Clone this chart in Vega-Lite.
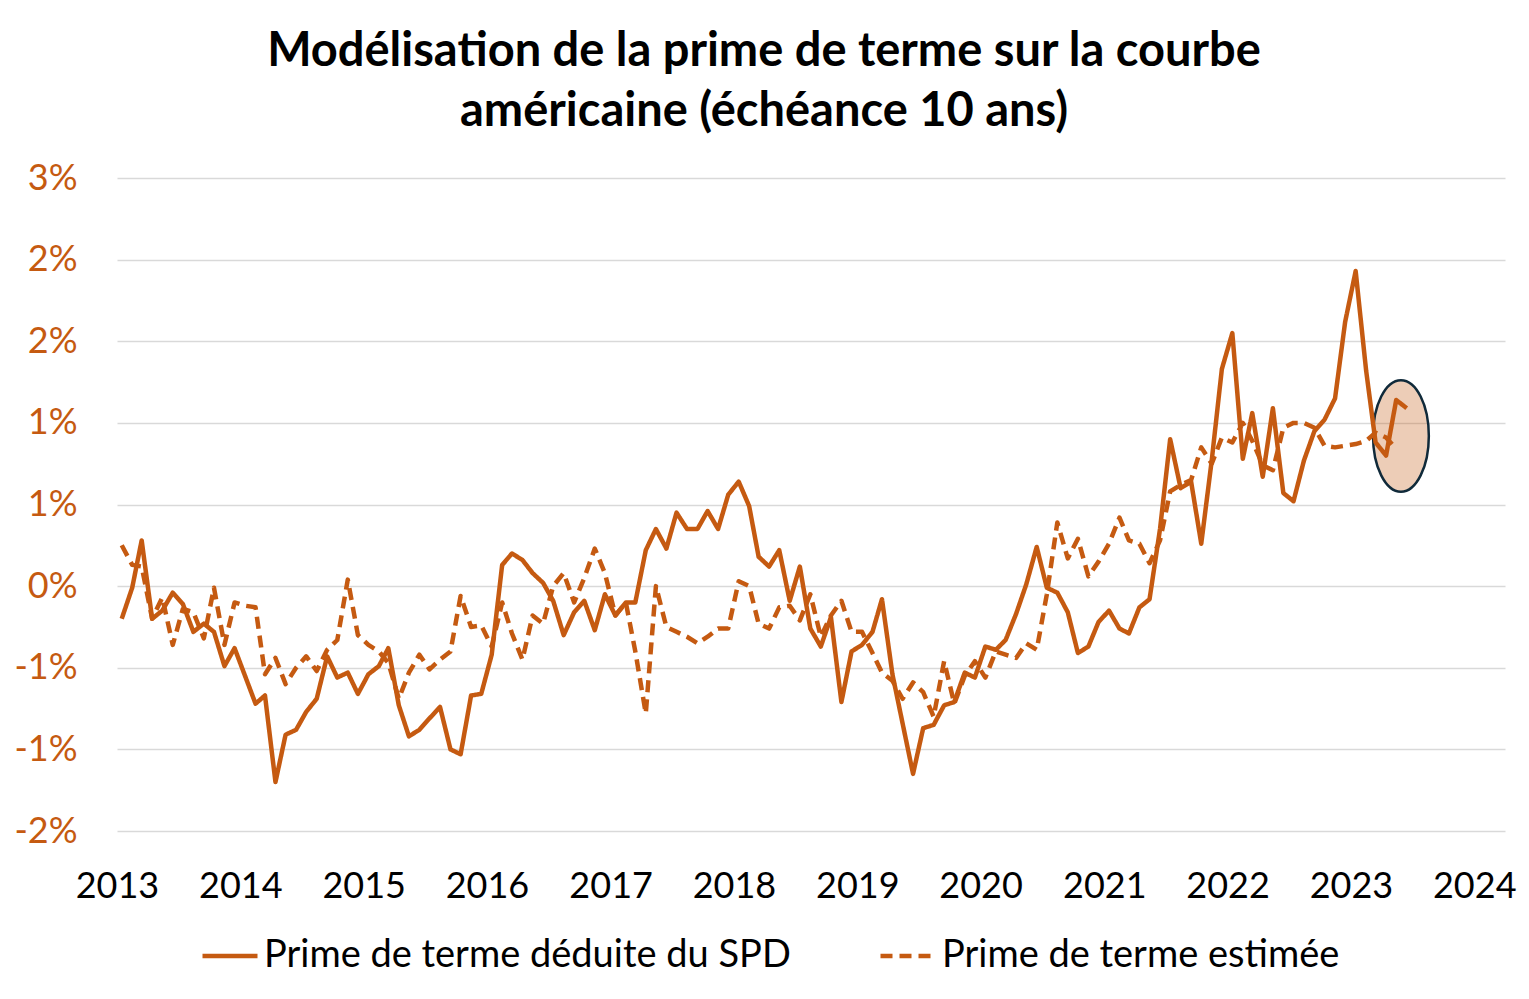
{
  "$schema": "https://vega.github.io/schema/vega-lite/v6.json",
  "autosize": {"type": "none"},
  "width": 1388,
  "height": 653,
  "padding": {"left": 117, "top": 178, "right": 24, "bottom": 168},
  "background": "white",
  "title": {
    "text": ["Modélisation de la prime de terme sur la courbe", "américaine (échéance 10 ans)"],
    "font": "Lato",
    "fontSize": 47,
    "fontWeight": "bold",
    "color": "black",
    "lineHeight": 60,
    "anchor": "middle",
    "baseline": "bottom",
    "dx": -47,
    "offset": -23
  },
  "config": {
    "view": {"stroke": null},
    "font": "Lato"
  },
  "datasets": {
    "primes": [
      {"date": "2013-01-15", "spd": -0.20, "est": 0.25},
      {"date": "2013-02-15", "spd": -0.01, "est": 0.13},
      {"date": "2013-03-15", "spd": 0.28, "est": 0.12},
      {"date": "2013-04-15", "spd": -0.20, "est": -0.20},
      {"date": "2013-05-15", "spd": -0.15, "est": -0.07},
      {"date": "2013-06-15", "spd": -0.04, "est": -0.36},
      {"date": "2013-07-15", "spd": -0.11, "est": -0.14},
      {"date": "2013-08-15", "spd": -0.28, "est": -0.16},
      {"date": "2013-09-15", "spd": -0.23, "est": -0.32},
      {"date": "2013-10-15", "spd": -0.28, "est": -0.01},
      {"date": "2013-11-15", "spd": -0.49, "est": -0.36},
      {"date": "2013-12-15", "spd": -0.38, "est": -0.10},
      {"date": "2014-01-15", "spd": -0.55, "est": -0.12},
      {"date": "2014-02-15", "spd": -0.72, "est": -0.13},
      {"date": "2014-03-15", "spd": -0.67, "est": -0.54},
      {"date": "2014-04-15", "spd": -1.20, "est": -0.44},
      {"date": "2014-05-15", "spd": -0.91, "est": -0.60},
      {"date": "2014-06-15", "spd": -0.88, "est": -0.50},
      {"date": "2014-07-15", "spd": -0.77, "est": -0.43},
      {"date": "2014-08-15", "spd": -0.69, "est": -0.52},
      {"date": "2014-09-15", "spd": -0.43, "est": -0.39},
      {"date": "2014-10-15", "spd": -0.56, "est": -0.33},
      {"date": "2014-11-15", "spd": -0.53, "est": 0.04},
      {"date": "2014-12-15", "spd": -0.66, "est": -0.30},
      {"date": "2015-01-15", "spd": -0.54, "est": -0.36},
      {"date": "2015-02-15", "spd": -0.49, "est": -0.40},
      {"date": "2015-03-15", "spd": -0.38, "est": -0.47},
      {"date": "2015-04-15", "spd": -0.73, "est": -0.69},
      {"date": "2015-05-15", "spd": -0.92, "est": -0.53},
      {"date": "2015-06-15", "spd": -0.88, "est": -0.42},
      {"date": "2015-07-15", "spd": -0.81, "est": -0.51},
      {"date": "2015-08-15", "spd": -0.74, "est": -0.45},
      {"date": "2015-09-15", "spd": -1.00, "est": -0.40},
      {"date": "2015-10-15", "spd": -1.03, "est": -0.06},
      {"date": "2015-11-15", "spd": -0.67, "est": -0.25},
      {"date": "2015-12-15", "spd": -0.66, "est": -0.24},
      {"date": "2016-01-15", "spd": -0.42, "est": -0.37},
      {"date": "2016-02-15", "spd": 0.13, "est": -0.10},
      {"date": "2016-03-15", "spd": 0.20, "est": -0.29},
      {"date": "2016-04-15", "spd": 0.16, "est": -0.45},
      {"date": "2016-05-15", "spd": 0.08, "est": -0.18},
      {"date": "2016-06-15", "spd": 0.02, "est": -0.23},
      {"date": "2016-07-15", "spd": -0.09, "est": 0.00},
      {"date": "2016-08-15", "spd": -0.30, "est": 0.08},
      {"date": "2016-09-15", "spd": -0.16, "est": -0.10},
      {"date": "2016-10-15", "spd": -0.09, "est": 0.05},
      {"date": "2016-11-15", "spd": -0.27, "est": 0.23},
      {"date": "2016-12-15", "spd": -0.05, "est": 0.08},
      {"date": "2017-01-15", "spd": -0.18, "est": -0.18},
      {"date": "2017-02-15", "spd": -0.10, "est": -0.10},
      {"date": "2017-03-15", "spd": -0.10, "est": -0.40},
      {"date": "2017-04-15", "spd": 0.22, "est": -0.78},
      {"date": "2017-05-15", "spd": 0.35, "est": 0.00},
      {"date": "2017-06-15", "spd": 0.23, "est": -0.25},
      {"date": "2017-07-15", "spd": 0.45, "est": -0.28},
      {"date": "2017-08-15", "spd": 0.35, "est": -0.31},
      {"date": "2017-09-15", "spd": 0.35, "est": -0.35},
      {"date": "2017-10-15", "spd": 0.46, "est": -0.31},
      {"date": "2017-11-15", "spd": 0.35, "est": -0.26},
      {"date": "2017-12-15", "spd": 0.56, "est": -0.26},
      {"date": "2018-01-15", "spd": 0.64, "est": 0.03},
      {"date": "2018-02-15", "spd": 0.49, "est": 0.00},
      {"date": "2018-03-15", "spd": 0.18, "est": -0.23},
      {"date": "2018-04-15", "spd": 0.12, "est": -0.26},
      {"date": "2018-05-15", "spd": 0.22, "est": -0.13},
      {"date": "2018-06-15", "spd": -0.09, "est": -0.12},
      {"date": "2018-07-15", "spd": 0.12, "est": -0.21},
      {"date": "2018-08-15", "spd": -0.26, "est": -0.05},
      {"date": "2018-09-15", "spd": -0.37, "est": -0.31},
      {"date": "2018-10-15", "spd": -0.19, "est": -0.18},
      {"date": "2018-11-15", "spd": -0.71, "est": -0.09},
      {"date": "2018-12-15", "spd": -0.40, "est": -0.28},
      {"date": "2019-01-15", "spd": -0.36, "est": -0.28},
      {"date": "2019-02-15", "spd": -0.28, "est": -0.41},
      {"date": "2019-03-15", "spd": -0.08, "est": -0.53},
      {"date": "2019-04-15", "spd": -0.54, "est": -0.58},
      {"date": "2019-05-15", "spd": -0.84, "est": -0.69},
      {"date": "2019-06-15", "spd": -1.15, "est": -0.59},
      {"date": "2019-07-15", "spd": -0.87, "est": -0.65},
      {"date": "2019-08-15", "spd": -0.85, "est": -0.80},
      {"date": "2019-09-15", "spd": -0.73, "est": -0.46},
      {"date": "2019-10-15", "spd": -0.71, "est": -0.72},
      {"date": "2019-11-15", "spd": -0.53, "est": -0.55},
      {"date": "2019-12-15", "spd": -0.56, "est": -0.46},
      {"date": "2020-01-15", "spd": -0.37, "est": -0.56},
      {"date": "2020-02-15", "spd": -0.39, "est": -0.40},
      {"date": "2020-03-15", "spd": -0.33, "est": -0.42},
      {"date": "2020-04-15", "spd": -0.17, "est": -0.44},
      {"date": "2020-05-15", "spd": 0.01, "est": -0.35},
      {"date": "2020-06-15", "spd": 0.24, "est": -0.39},
      {"date": "2020-07-15", "spd": -0.01, "est": -0.05},
      {"date": "2020-08-15", "spd": -0.04, "est": 0.39},
      {"date": "2020-09-15", "spd": -0.16, "est": 0.17},
      {"date": "2020-10-15", "spd": -0.41, "est": 0.29},
      {"date": "2020-11-15", "spd": -0.37, "est": 0.06},
      {"date": "2020-12-15", "spd": -0.22, "est": 0.15},
      {"date": "2021-01-15", "spd": -0.15, "est": 0.26},
      {"date": "2021-02-15", "spd": -0.26, "est": 0.42},
      {"date": "2021-03-15", "spd": -0.29, "est": 0.28},
      {"date": "2021-04-15", "spd": -0.13, "est": 0.26},
      {"date": "2021-05-15", "spd": -0.08, "est": 0.14},
      {"date": "2021-06-15", "spd": 0.35, "est": 0.28},
      {"date": "2021-07-15", "spd": 0.90, "est": 0.58},
      {"date": "2021-08-15", "spd": 0.60, "est": 0.62},
      {"date": "2021-09-15", "spd": 0.64, "est": 0.65},
      {"date": "2021-10-15", "spd": 0.26, "est": 0.85},
      {"date": "2021-11-15", "spd": 0.77, "est": 0.75},
      {"date": "2021-12-15", "spd": 1.33, "est": 0.91},
      {"date": "2022-01-15", "spd": 1.55, "est": 0.88},
      {"date": "2022-02-15", "spd": 0.78, "est": 1.00},
      {"date": "2022-03-15", "spd": 1.06, "est": 0.89},
      {"date": "2022-04-15", "spd": 0.67, "est": 0.74},
      {"date": "2022-05-15", "spd": 1.09, "est": 0.71},
      {"date": "2022-06-15", "spd": 0.57, "est": 0.97},
      {"date": "2022-07-15", "spd": 0.52, "est": 1.00},
      {"date": "2022-08-15", "spd": 0.77, "est": 1.00},
      {"date": "2022-09-15", "spd": 0.95, "est": 0.97},
      {"date": "2022-10-15", "spd": 1.02, "est": 0.86},
      {"date": "2022-11-15", "spd": 1.15, "est": 0.85},
      {"date": "2022-12-15", "spd": 1.62, "est": 0.86},
      {"date": "2023-01-15", "spd": 1.93, "est": 0.87},
      {"date": "2023-02-15", "spd": 1.32, "est": 0.89},
      {"date": "2023-03-15", "spd": 0.88, "est": 0.94},
      {"date": "2023-04-15", "spd": 0.80, "est": 0.91},
      {"date": "2023-05-15", "spd": 1.14, "est": 0.84},
      {"date": "2023-06-15", "spd": 1.09}
    ],
    "annees": [
      {"date": "2013-01-01"}, {"date": "2014-01-01"}, {"date": "2015-01-01"},
      {"date": "2016-01-01"}, {"date": "2017-01-01"}, {"date": "2018-01-01"},
      {"date": "2019-01-01"}, {"date": "2020-01-01"}, {"date": "2021-01-01"},
      {"date": "2022-01-01"}, {"date": "2023-01-01"}, {"date": "2024-01-01"}
    ],
    "zoom": [
      {"date": "2023-05-29", "value": 0.92}
    ]
  },
  "encoding": {
    "x": {
      "field": "date",
      "type": "temporal",
      "scale": {
        "type": "utc",
        "domain": [
          {"year": 2013, "month": 1, "date": 1, "utc": true},
          {"year": 2024, "month": 4, "date": 1, "utc": true}
        ]
      },
      "axis": {
        "title": null,
        "tickCount": {"interval": "year", "step": 1},
        "format": "%Y",
        "formatType": "utc",
        "grid": false,
        "ticks": false,
        "domain": false,
        "labelFont": "Lato",
        "labelFontSize": 36,
        "labelColor": "black",
        "labelPadding": 38,
        "labelFlush": false,
        "labelOverlap": false
      }
    },
    "y": {
      "field": "value",
      "type": "quantitative",
      "scale": {"domain": [-1.5, 2.5], "nice": false, "zero": false},
      "axis": {
        "title": null,
        "values": [-1.5, -1, -0.5, 0, 0.5, 1, 1.5, 2, 2.5],
        "labelExpr": "replace(format(datum.value / 100, '.0%'), '\u2212', '-')",
        "grid": true,
        "gridColor": "#D9D9D9",
        "gridWidth": 1.5,
        "ticks": false,
        "domain": false,
        "labelFont": "Lato",
        "labelFontSize": 36,
        "labelColor": "#C55A11",
        "labelPadding": 40
      }
    }
  },
  "layer": [
    {
      "data": {"name": "zoom"},
      "mark": {
        "type": "point",
        "shape": "M 0.5 0 C 0.5 0.5523 0.2761 1 0 1 C -0.2761 1 -0.5 0.5523 -0.5 0 C -0.5 -0.5523 -0.2761 -1 0 -1 C 0.2761 -1 0.5 -0.5523 0.5 0 Z",
        "size": 12455,
        "filled": true,
        "fill": "#C55A11",
        "fillOpacity": 0.3,
        "stroke": "#102A3A",
        "strokeWidth": 2.5,
        "opacity": 1
      }
    },
    {
      "data": {"name": "annees"},
      "mark": {
        "type": "rule",
        "color": "#D9D9D9",
        "strokeWidth": 1.5
      },
      "encoding": {
        "y": {"datum": 0, "type": "quantitative"},
        "y2": {"datum": -0.09}
      }
    },
    {
      "data": {"name": "primes"},
      "transform": [
        {"fold": ["spd", "est"], "as": ["key", "value"]}
      ],
      "mark": {
        "type": "line",
        "strokeWidth": 4.5,
        "strokeCap": "butt",
        "strokeJoin": "round"
      },
      "encoding": {
        "color": {
          "field": "key",
          "type": "nominal",
          "scale": {"domain": ["spd", "est"], "range": ["#C55A11", "#C55A11"]},
          "legend": {
            "orient": "none",
            "legendX": 83,
            "legendY": 748,
            "direction": "horizontal",
            "title": null,
            "symbolType": "stroke",
            "symbolSize": 3025,
            "symbolStrokeWidth": 4.5,
            "labelFont": "Lato",
            "labelFontSize": 38,
            "labelColor": "black",
            "labelOffset": 4,
            "labelLimit": 1000,
            "columnPadding": 80,
            "labelExpr": "datum.value == 'spd' ? 'Prime de terme déduite du SPD' : 'Prime de terme estimée'"
          }
        },
        "strokeDash": {
          "field": "key",
          "type": "nominal",
          "scale": {"domain": ["spd", "est"], "range": [[1, 0], [12, 7]]},
          "legend": {
            "orient": "none",
            "legendX": 83,
            "legendY": 748,
            "direction": "horizontal",
            "title": null,
            "symbolType": "stroke",
            "symbolSize": 3025,
            "symbolStrokeWidth": 4.5,
            "labelFont": "Lato",
            "labelFontSize": 38,
            "labelColor": "black",
            "labelOffset": 4,
            "labelLimit": 1000,
            "columnPadding": 80,
            "labelExpr": "datum.value == 'spd' ? 'Prime de terme déduite du SPD' : 'Prime de terme estimée'"
          }
        }
      }
    }
  ]
}
